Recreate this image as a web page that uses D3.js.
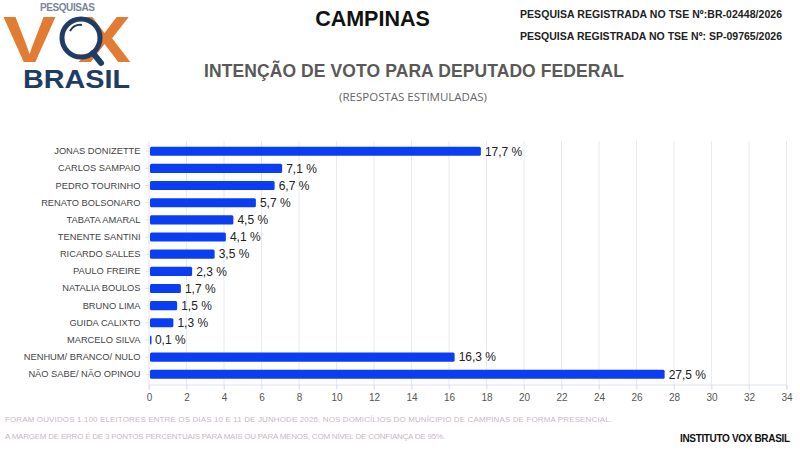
<!DOCTYPE html>
<html><head><meta charset="utf-8">
<script src="https://cdn.jsdelivr.net/npm/d3@7"></script>
<style>body{margin:0;background:#fff}svg{display:block;font-family:Arial,"Liberation Sans",sans-serif}</style>
</head><body>
<svg id="c" width="800" height="450"></svg>
<script>
const categories = ["JONAS DONIZETTE","CARLOS SAMPAIO","PEDRO TOURINHO","RENATO BOLSONARO","TABATA AMARAL","TENENTE SANTINI","RICARDO SALLES","PAULO FREIRE","NATALIA BOULOS","BRUNO LIMA","GUIDA CALIXTO","MARCELO SILVA","NENHUM/ BRANCO/ NULO","NÃO SABE/ NÃO OPINOU"];
const values = [17.7,7.1,6.7,5.7,4.5,4.1,3.5,2.3,1.7,1.5,1.3,0.1,16.3,27.5];
const xTicks = [0,2,4,6,8,10,12,14,16,18,20,22,24,26,28,30,32,34];

const svg = d3.select("#c");
const x = d3.scaleLinear().domain([0,34]).range([149,786.5]);
const y = d3.scaleBand().domain(categories).range([141.5,384]).paddingInner(0.47).paddingOuter(0.3);

// gridlines
svg.append("g").selectAll("line").data(xTicks.slice(1)).join("line")
  .attr("x1",d=>x(d)).attr("x2",d=>x(d)).attr("y1",141).attr("y2",389)
  .attr("stroke","#e8eaf2").attr("stroke-width",1);

// bottom axis
const xa = svg.append("g").attr("transform","translate(0,384.5)")
  .call(d3.axisBottom(x).tickValues(xTicks).tickSize(5).tickPadding(4).tickFormat(d3.format("d")));
xa.select(".domain").attr("stroke","#dfe3ee");
xa.selectAll(".tick line").attr("stroke","#dfe3ee");
xa.selectAll("text").attr("fill","#555").attr("font-size",10).attr("font-family","Arial, sans-serif");

// left axis
const ya = svg.append("g").attr("transform","translate(149.5,0)")
  .call(d3.axisLeft(y).tickSize(4).tickPadding(5));
ya.select(".domain").attr("stroke","#dfe3ee").attr("d","M-0.5,141V389");
ya.selectAll(".tick line").attr("stroke","#dfe3ee");
ya.selectAll("text").attr("fill","#444").attr("font-size",9.3).attr("font-family","Arial, sans-serif");

// bars
svg.append("g").selectAll("rect").data(values).join("rect")
  .attr("x",x(0)+1).attr("y",(d,i)=>y(categories[i]))
  .attr("width",d=>Math.max(1.5,x(d)-x(0)-1)).attr("height",y.bandwidth())
  .attr("rx",1.5).attr("fill","#0b3ef3");

// value labels
svg.append("g").selectAll("text").data(values).join("text")
  .attr("x",d=>x(d)+4).attr("y",(d,i)=>y(categories[i])+y.bandwidth()/2)
  .attr("dy","0.36em").attr("font-size",12).attr("fill","#222")
  .text(d=>d3.format(".1f")(d).replace(".",",")+" %");

// titles
svg.append("text").attr("x",372.5).attr("y",26).attr("text-anchor","middle")
  .attr("font-size",21.5).attr("font-weight","bold").attr("fill","#111").text("CAMPINAS");
svg.append("text").attr("x",520).attr("y",18).attr("font-size",10.5).attr("font-weight","bold").attr("fill","#222")
  .attr("textLength",262).text("PESQUISA REGISTRADA NO TSE Nº:BR-02448/2026");
svg.append("text").attr("x",520).attr("y",40).attr("font-size",10.5).attr("font-weight","bold").attr("fill","#222")
  .attr("textLength",262).text("PESQUISA REGISTRADA NO TSE Nº: SP-09765/2026");
svg.append("text").attr("x",414).attr("y",77).attr("text-anchor","middle")
  .attr("font-size",17.5).attr("font-weight","bold").attr("fill","#595959")
  .attr("textLength",420).text("INTENÇÃO DE VOTO PARA DEPUTADO FEDERAL");
svg.append("text").attr("x",413).attr("y",101).attr("text-anchor","middle")
  .attr("font-size",11.5).attr("fill","#666").attr("font-family","'Open Sans', Arial, sans-serif").text("(RESPOSTAS ESTIMULADAS)");

// footer
svg.append("text").attr("x",5).attr("y",422).attr("font-size",8).attr("fill","#c9b7c6")
  .attr("textLength",607).text("FORAM OUVIDOS 1.100 ELEITORES ENTRE OS DIAS 10 E 11 DE JUNHODE 2026, NOS DOMICÍLIOS DO MUNÍCIPIO DE CAMPINAS DE FORMA PRESENCIAL.");
svg.append("text").attr("x",5).attr("y",439).attr("font-size",8).attr("fill","#c9b7c6")
  .attr("textLength",440).text("A MARGEM DE ERRO É DE 3 PONTOS PERCENTUAIS PARA MAIS OU PARA MENOS, COM NÍVEL DE CONFIANÇA DE 95%.");
svg.append("text").attr("x",680).attr("y",442).attr("font-size",10).attr("font-weight","bold").attr("fill","#111")
  .attr("textLength",110).text("INSTITUTO VOX BRASIL");

// logo
const lg = svg.append("g");
lg.append("text").attr("x",40).attr("y",11).attr("font-size",10).attr("font-weight","bold").attr("fill","#7a869a")
  .attr("textLength",55).text("PESQUISAS");
lg.append("text").attr("x",3).attr("y",62).attr("font-size",64).attr("font-weight","bold").attr("fill","#e27c34")
  .attr("textLength",128).attr("lengthAdjust","spacingAndGlyphs").text("V   X");
lg.append("circle").attr("cx",81).attr("cy",38).attr("r",19).attr("fill","#fff").attr("stroke","#1f3c64").attr("stroke-width",5);
lg.append("path").attr("d","M70,31 A12,12 0 0 1 82,25").attr("fill","none").attr("stroke","#1f3c64").attr("stroke-width",2);
lg.append("line").attr("x1",93).attr("y1",53).attr("x2",101).attr("y2",63).attr("stroke","#1f3c64").attr("stroke-width",6).attr("stroke-linecap","round");
lg.append("text").attr("x",23).attr("y",88).attr("font-size",25).attr("font-weight","bold").attr("fill","#1f3c64")
  .attr("textLength",107).attr("lengthAdjust","spacingAndGlyphs").text("BRASIL");
</script>
</body></html>
